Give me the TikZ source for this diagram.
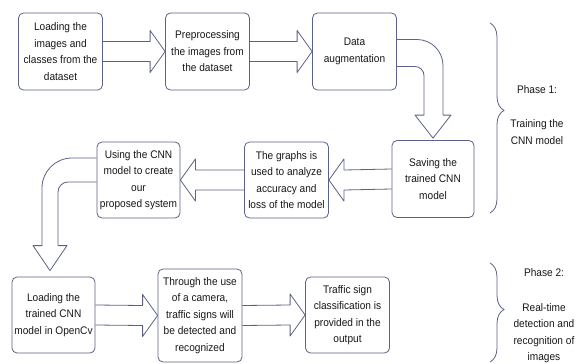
\documentclass[tikz,border=0pt]{standalone}
\usepackage{fontspec}
\setmainfont{Liberation Sans}[FakeStretch=0.92]
\usetikzlibrary{calc,decorations.pathreplacing}
\definecolor{edge}{HTML}{5B6285}
\definecolor{ink}{HTML}{161616}
\newcommand{\blockarrow}[3]{%
  \draw[arrowline] ($(#1)+(0,-10)$) -- ($(#2)+(#3,-10)$) -- ($(#2)+(#3,-21)$) -- (#2)
    -- ($(#2)+(#3,21)$) -- ($(#2)+(#3,10)$) -- ($(#1)+(0,10)$);}
\begin{document}
\begin{tikzpicture}[x=1pt, y=-1pt,
  every node/.style={text=ink, font=\fontsize{11}{16.5}\selectfont, align=center},
  box/.style={draw=edge, line width=0.8pt, rounded corners=5pt, minimum width=84pt,
    minimum height=77pt, inner sep=1pt},
  arrowline/.style={draw=edge, line width=0.8pt, line join=round},
  phasebrace/.style={draw=edge, line width=0.8pt, decorate,
    decoration={brace, amplitude=14pt, aspect=#1}}]
  \useasboundingbox (0, 0) rectangle (576, 364);
  \node[box] (Load) at (60.5, 51.5) {Loading the\\images and\\classes from the\\dataset};
  \node[box] (Prep) at (207.5, 51.5) {Preprocessing\\the images from\\the dataset};
  \node[box] (Aug) at (354.5, 51.5) {Data\\augmentation};
  \node[box, minimum width=82pt] (Save) at (433, 179) {Saving the\\trained CNN\\model};
  \node[box, minimum height=76pt] (Graph) at (286.5, 180) {The graphs is\\used to analyze\\accuracy and\\loss of the model};
  \node[box, minimum width=83pt, minimum height=76pt] (Use) at (138.5, 180) {Using the CNN\\model to create\\our\\proposed system};
  \node[box, minimum width=83pt, minimum height=76pt] (LoadCNN) at (53.5, 315) {Loading the\\trained CNN\\model in OpenCv};
  \node[box, minimum height=93pt] (Camera) at (200, 315.5) {Through the use\\of a camera,\\traffic signs will\\be detected and\\recognized};
  \node[box, minimum height=76pt] (Class) at (347.5, 315) {Traffic sign\\classification is\\provided in the\\output};
  \node (Phase1) at (537, 90) {Phase 1:};
  \node (Train) at (537, 132) {Training the\\CNN model};
  \node (Phase2) at (544, 273) {Phase 2:};
  \node (RealTime) at (544, 333) {Real-time\\detection and\\recognition of\\images};
  \blockarrow{Load.east}{Prep.west}{-15}
  \blockarrow{Prep.east}{Aug.west}{-15}
  \blockarrow{Save.west}{Graph.east}{15}
  \blockarrow{Graph.west}{Use.east}{15}
  \blockarrow{LoadCNN.east}{Camera.west}{-15}
  \blockarrow{Camera.east}{Class.west}{-15}
  \draw[arrowline, rounded corners=26pt] let \p1=(Aug.east), \p2=(Save.north) in
    (\x1, \y1+12pt) -- (\x2+10pt, \y1+12pt) -- (\x2+10pt, \y2+25pt);
  \draw[arrowline, rounded corners=9pt] let \p1=(Aug.east), \p2=(Save.north) in
    (\x1, \y1-15pt) -- (\x2-9pt, \y1-15pt) -- (\x2-9pt, \y2+25pt);
  \draw[arrowline] let \p2=(Save.north) in
    (\x2-9pt, \y2+25pt) -- (\x2-18pt, \y2+25pt) -- (\x2, \y2+2pt)
    -- (\x2+18pt, \y2+25pt) -- (\x2+10pt, \y2+25pt);
  \draw[arrowline, rounded corners=30pt] let \p1=(Use.west), \p2=(LoadCNN.north) in
    (\x1, \y1+22pt) -- (\x2-11.5pt, \y1+22pt) -- (\x2-11.5pt, \y2+31pt);
  \draw[arrowline, rounded corners=10pt] let \p1=(Use.west), \p2=(LoadCNN.north) in
    (\x1, \y1-2pt) -- (\x2+4.5pt, \y1-2pt) -- (\x2+4.5pt, \y2+31pt);
  \draw[arrowline] let \p2=(LoadCNN.north) in
    (\x2+4.5pt, \y2+31pt) -- (\x2+13.5pt, \y2+31pt) -- (\x2-3.5pt, \y2+6pt)
    -- (\x2-20.5pt, \y2+31pt) -- (\x2-11.5pt, \y2+31pt);
  \draw[phasebrace=0.46] (490, 23) -- (490, 213);
  \draw[phasebrace=0.47] (490, 263) -- (490, 362);
\end{tikzpicture}
\end{document}
